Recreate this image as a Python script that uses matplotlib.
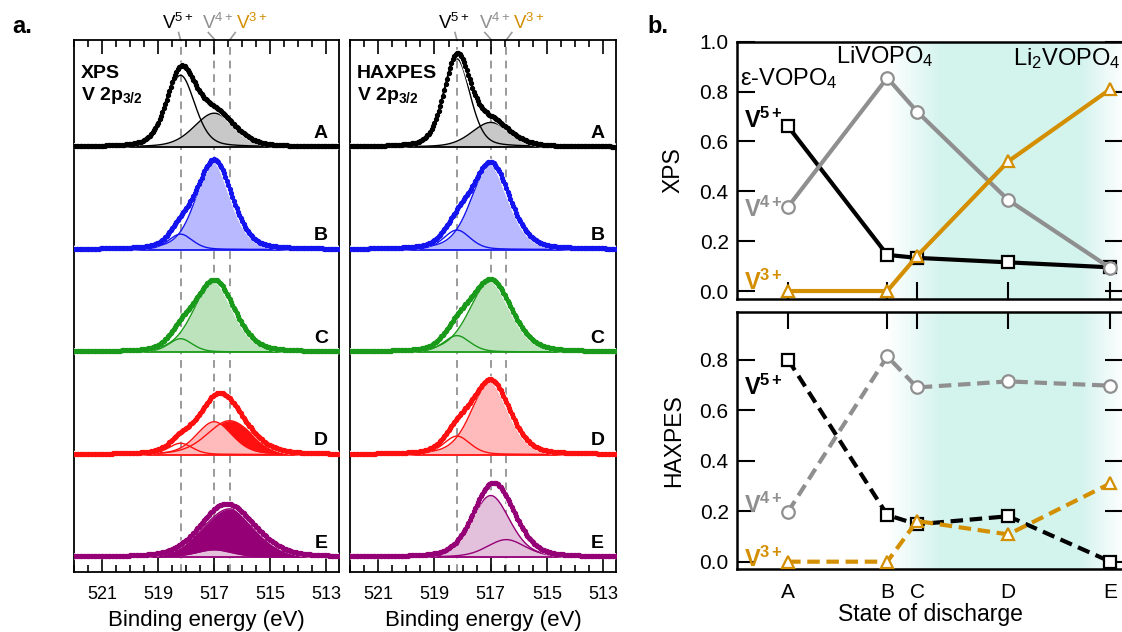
import numpy as np
import matplotlib.pyplot as plt
from matplotlib import patheffects as pe
from matplotlib.ticker import MultipleLocator

plt.rcParams['font.family'] = 'Liberation Sans'
plt.rcParams['mathtext.fontset'] = 'custom'
plt.rcParams['mathtext.rm'] = 'Liberation Sans'
plt.rcParams['mathtext.it'] = 'Liberation Sans:italic'
plt.rcParams['mathtext.bf'] = 'Liberation Sans:bold'

# ---------------- panel b: fractions of each oxidation state
states = ['A', 'B', 'C', 'D', 'E']
state_pos = [0.0, 1.0, 1.3, 2.22, 3.25]

xps_v5 = [0.66, 0.145, 0.133, 0.115, 0.095]
xps_v4 = [0.338, 0.855, 0.72, 0.365, 0.092]
xps_v3 = [0.0, 0.0, 0.14, 0.52, 0.81]

hax_v5 = [0.80, 0.185, 0.148, 0.18, 0.0]
hax_v4 = [0.198, 0.813, 0.69, 0.714, 0.697]
hax_v3 = [0.0, 0.0, 0.161, 0.108, 0.31]

# ---------------- panel a: fitted components (height in stacked units, FWHM in eV)
peak_v5, peak_v4, peak_v3 = 518.2, 517.0, 516.45

xps_h5 = [0.70, 0.15, 0.13, 0.11, 0.0]
xps_h4 = [0.33, 0.87, 0.70, 0.32, 0.07]
xps_h3 = [0.0, 0.0, 0.0, 0.33, 0.47]
xps_w5 = [1.2, 1.0, 1.0, 1.0, 1.0]
xps_w4 = [1.7, 1.5, 1.7, 1.5, 1.5]
xps_w3 = [2.0, 2.0, 2.0, 1.9, 2.3]

hax_h5 = [0.86, 0.19, 0.16, 0.18, 0.0]
hax_h4 = [0.24, 0.84, 0.70, 0.72, 0.60]
hax_h3 = [0.0, 0.0, 0.0, 0.0, 0.17]
hax_w5 = [1.1, 1.1, 1.1, 1.1, 1.1]
hax_w4 = [1.6, 1.6, 1.75, 1.6, 1.6]
hax_w3 = [1.6, 1.6, 1.6, 1.6, 1.6]

spec_colors = ['black', '#1414F0', '#1A9A1A', '#FF1010', '#950077']
light_colors = ['#C8C8C8', '#B9B9FF', '#BDE3BD', '#FFBBBB', '#E3C0DC']

c_v5, c_v4, c_v3 = 'black', '#8F8F8F', '#D48F00'


def pv(x, c, h, w, eta=0.3):
    g = np.exp(-4 * np.log(2) * ((x - c) / w) ** 2)
    lo = 1 / (1 + 4 * ((x - c) / w) ** 2)
    return h * ((1 - eta) * g + eta * lo)


be = np.linspace(512.3, 522.2, 600)
be_pts = np.arange(512.55, 522.0, 0.05)

fig = plt.figure(figsize=(11.22, 6.32), dpi=100)
ax_xps = fig.add_axes([74 / 1122, 1 - 572 / 632, 265 / 1122, 532 / 632])
ax_hax = fig.add_axes([350 / 1122, 1 - 572 / 632, 266 / 1122, 532 / 632])


def draw_spectra(ax, h5, h4, h3, w5, w4, w3, title):
    for i in range(5):
        off = 4 - i
        col = spec_colors[i]
        comps = []
        for c, h, w in ((peak_v5, h5[i], w5[i]), (peak_v4, h4[i], w4[i]), (peak_v3, h3[i], w3[i])):
            comps.append((pv(be, c, h, w), pv(be_pts, c, h, w), h))
        env = comps[0][0] + comps[1][0] + comps[2][0]
        env_pts = comps[0][1] + comps[1][1] + comps[2][1]
        if h3[i] > 0:
            ax.fill_between(be, off, off + comps[2][0], color=col, lw=0, zorder=2)
        ax.fill_between(be, off, off + comps[1][0], color=light_colors[i], lw=0, zorder=3)
        for curve, _, h in comps:
            if h > 0:
                ax.plot(be, off + curve, color=col, lw=1.0, zorder=4)
        ax.axhline(off, color=col, lw=1.3, zorder=4)
        ax.plot(be, off + env, color=col, lw=1.5, zorder=5,
                path_effects=[pe.withStroke(linewidth=4.5, foreground='white')])
        ax.plot(be_pts, off + env_pts, 'o', ms=2.8, color=col, zorder=6)
        ax.text(513.2, off + 0.05, states[i], ha='center', va='bottom',
                fontsize=14, fontweight='bold', zorder=7)

    for xv in (peak_v5, peak_v4, peak_v3):
        ax.axvline(xv, color='#9A9A9A', lw=1.4, dashes=(4, 3), zorder=1)

    ax.set_xlim(522, 512.55)
    ax.set_ylim(-0.146, 5.044)
    ax.set_yticks([])
    ax.xaxis.set_major_locator(MultipleLocator(2))
    ax.xaxis.set_minor_locator(MultipleLocator(0.5))
    ax.tick_params(axis='x', which='both', direction='in', top=True, bottom=True,
                   labelsize=13, pad=10, width=1.2)
    ax.tick_params(axis='x', which='major', length=10)
    ax.tick_params(axis='x', which='minor', length=5)
    ax.set_xticks(range(513, 522, 2))
    for s in ax.spines.values():
        s.set_linewidth(1.3)
    ax.set_xlabel('Binding energy (eV)', fontsize=16, labelpad=5)

    ax.text(0.025, 0.929, title, transform=ax.transAxes, fontsize=14,
            fontweight='bold', va='baseline', zorder=8)
    ax.text(0.025, 0.887, r'$\mathbf{V\ 2p_{3/2}}$', transform=ax.transAxes,
            fontsize=14, va='baseline', zorder=8)

    # oxidation state labels above the frame
    tr = ax.get_xaxis_transform()
    for lx, txt, col, seg in ((518.86, r'V$^{5+}$', c_v5, (518.27, 518.2)),
                              (517.43, r'V$^{4+}$', c_v4, (517.21, 516.97)),
                              (516.21, r'V$^{3+}$', c_v3, (516.25, 516.45))):
        ax.text(lx, 1.02, txt, transform=tr, color=col, fontsize=13.5,
                ha='left', va='baseline', clip_on=False)
        ax.plot(seg, (1.014, 1.0), transform=tr, color='#9A9A9A', lw=1.2, clip_on=False)


draw_spectra(ax_xps, xps_h5, xps_h4, xps_h3, xps_w5, xps_w4, xps_w3, 'XPS')
draw_spectra(ax_hax, hax_h5, hax_h4, hax_h3, hax_w5, hax_w4, hax_w3, 'HAXPES')

# ---------------- panel b
ax_t = fig.add_axes([737 / 1122, 1 - 299 / 632, 386 / 1122, 257.3 / 632])
ax_b = fig.add_axes([737 / 1122, 1 - 569 / 632, 386 / 1122, 257.3 / 632])

xlo, xhi = -0.515, 3.377
teal = np.array([0.83, 0.953, 0.933])
xx = np.linspace(xlo, xhi, 500)
alpha = np.interp(xx, [1.0, 1.55, 2.95, 3.377], [0, 1, 1, 0.05])
grad = np.ones((1, xx.size, 3)) * (1 - alpha[None, :, None]) + teal * alpha[None, :, None]

for ax, v5, v4, v3, ls, ylab, ylim in ((ax_t, xps_v5, xps_v4, xps_v3, '-', 'XPS', (-0.032, 1.0)),
                                        (ax_b, hax_v5, hax_v4, hax_v3, '--', 'HAXPES', (-0.029, 0.99))):
    ax.imshow(grad, extent=[xlo, xhi, ylim[0], ylim[1]], aspect='auto', zorder=0)
    kw = dict(lw=3, ms=9, mfc='white', mew=1.6, zorder=3, clip_on=False)
    if ls == '--':
        kw['dashes'] = (3, 1.6)
    ax.plot(state_pos, v5, color=c_v5, marker='s', mec=c_v5, **kw)
    ax.plot(state_pos, v4, color=c_v4, marker='o', mec=c_v4, **kw)
    ax.plot(state_pos, v3, color=c_v3, marker='^', mec=c_v3, **kw)
    ax.set_xlim(xlo, xhi)
    ax.set_ylim(*ylim)
    ax.set_xticks(state_pos)
    ax.yaxis.set_major_locator(MultipleLocator(0.2))
    ax.tick_params(axis='y', direction='in', left=True, right=True, length=13,
                   width=1.5, labelsize=15, pad=6)
    ax.set_ylabel(ylab, fontsize=16.5)
    ax.yaxis.set_label_coords(-0.135, 0.5)
    for s in ax.spines.values():
        s.set_linewidth(1.8)

ax_t.set_yticks([0.0, 0.2, 0.4, 0.6, 0.8, 1.0])
ax_t.tick_params(axis='x', direction='in', bottom=True, top=False, length=12,
                 width=1.5, labelbottom=False)
ax_b.set_yticks([0.0, 0.2, 0.4, 0.6, 0.8])
ax_b.set_xticklabels(states)
ax_b.tick_params(axis='x', direction='in', bottom=False, top=True, length=12,
                 width=1.5, labelsize=15, pad=10)
ax_b.set_xlabel('State of discharge', fontsize=16.5, labelpad=1)

# phase labels
ax_t.text(-0.48, 0.826, 'ε-VOPO$_4$', fontsize=17, va='baseline', zorder=5)
ax_t.text(0.486, 0.915, 'LiVOPO$_4$', fontsize=17, va='baseline', zorder=5)
ax_t.text(2.27, 0.907, 'Li$_2$VOPO$_4$', fontsize=17, va='baseline', zorder=5, clip_on=False)

# oxidation state labels
for ax, ys in ((ax_t, (0.654, 0.297, 0.004)), (ax_b, (0.659, 0.194, -0.02))):
    for y, txt, col in zip(ys, (r'$\mathbf{V^{5+}}$', r'$\mathbf{V^{4+}}$', r'$\mathbf{V^{3+}}$'),
                           (c_v5, c_v4, c_v3)):
        ax.text(-0.05, y, txt, color=col, fontsize=17, ha='right', va='baseline', zorder=2)

fig.text(12 / 1122, 1 - 33 / 632, 'a.', fontsize=17, fontweight='bold', va='baseline')
fig.text(647 / 1122, 1 - 33 / 632, 'b.', fontsize=17, fontweight='bold', va='baseline')

fig.savefig('out.png', dpi=100)
